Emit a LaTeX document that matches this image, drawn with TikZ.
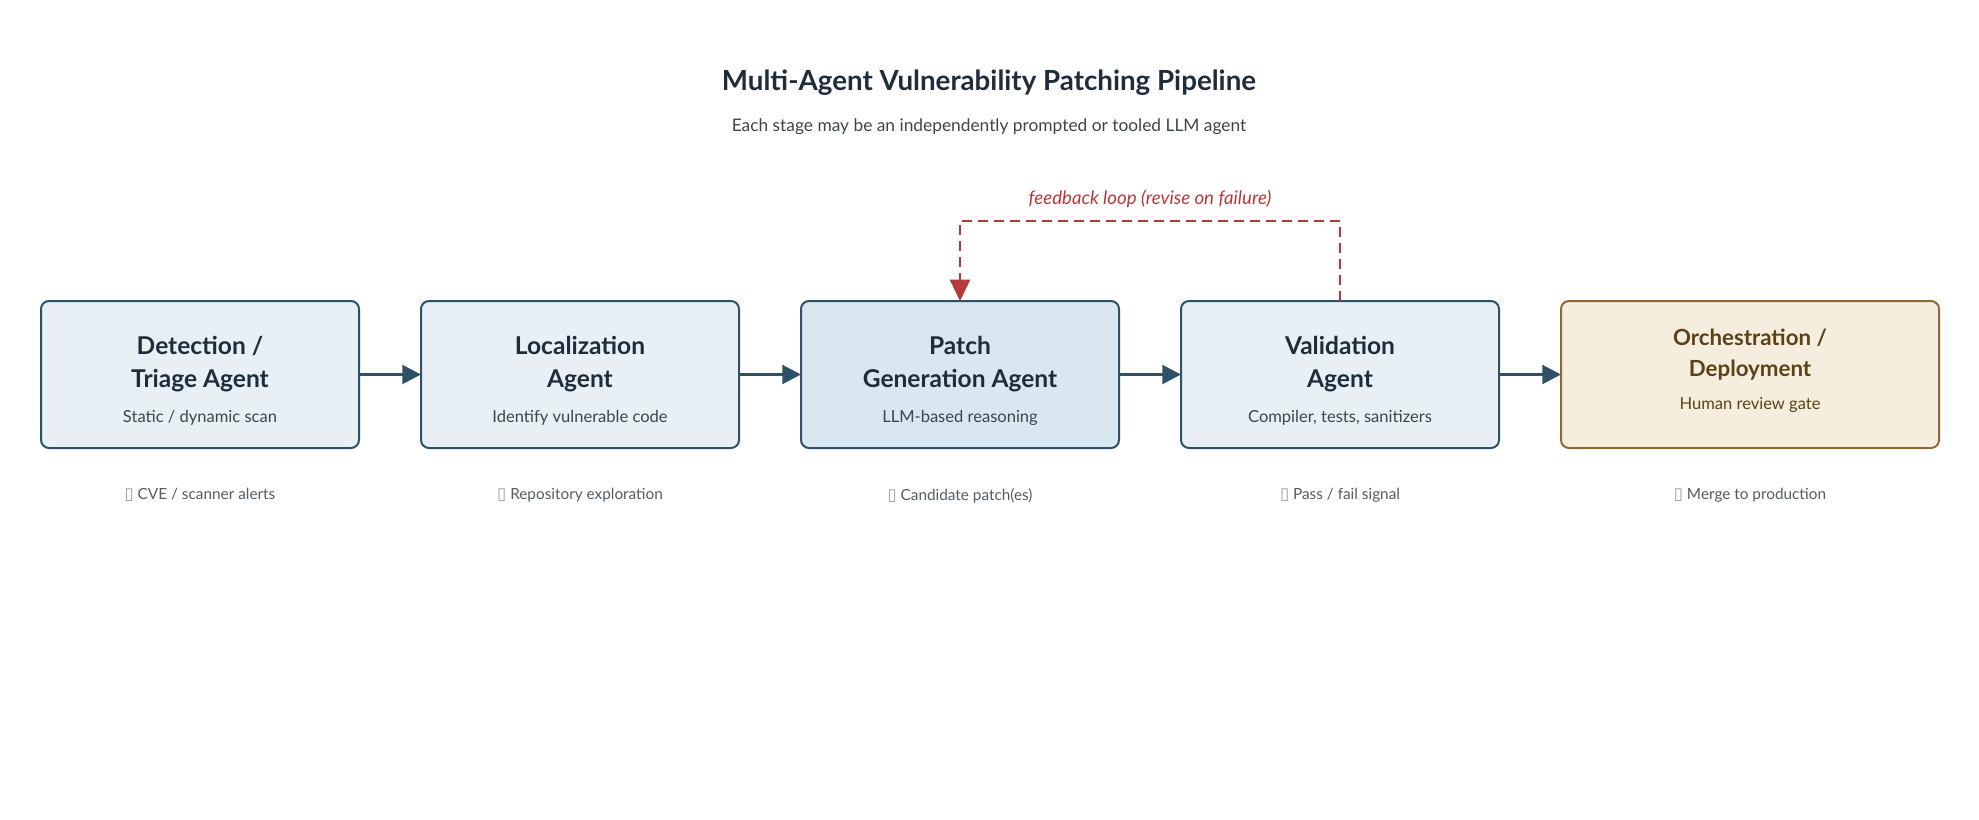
\documentclass[tikz,border=0pt]{standalone}
\usepackage{fontspec}
\setmainfont{Lato}
\newfontfamily\symfont{DejaVu Sans}
\usetikzlibrary{positioning, arrows.meta}
\definecolor{ink}{HTML}{1F2D3A}
\definecolor{edge}{HTML}{2E5166}
\definecolor{boxfill}{HTML}{E8F0F5}
\definecolor{hlfill}{HTML}{DBE7F0}
\definecolor{sandfill}{HTML}{F5EEDE}
\definecolor{sandedge}{HTML}{8C6A36}
\definecolor{sandink}{HTML}{5B4318}
\definecolor{fbred}{HTML}{B5393B}
\definecolor{subgrey}{HTML}{3F4449}
\definecolor{notegrey}{HTML}{555B60}
\newcommand{\agentsub}[2][subgrey]{{\fontsize{12.4}{14}\selectfont\mdseries\color{#1}#2}}
\newcommand{\tofu}{{\symfont\fontsize{12.5}{13}\selectfont\color{notegrey!60}▯}}
\tikzset{
  agent/.style={draw=edge, fill=boxfill, line width=1.5pt, rounded corners=6pt, outer sep=0pt,
    minimum width=238.5pt, minimum height=110.25pt, align=center, text=ink,
    font=\fontsize{18.4}{24.75}\selectfont\bfseries, text height=75.25pt, text depth=4pt},
  deploy/.style={agent, draw=sandedge, fill=sandfill, text=sandink, minimum width=283.5pt,
    font=\fontsize{16.7}{23.25}\selectfont\bfseries, text height=55.75pt, text depth=4pt},
  flow/.style={draw=edge, line width=2.25pt, -{Triangle[length=14pt,width=14pt]}},
  fbk/.style={draw=fbred, line width=1.9pt, dash pattern=on 7.5pt off 4.5pt,
    -{Triangle[length=16pt,width=15pt]}},
  note/.style={inner sep=0pt, text=notegrey, font=\fontsize{11.5}{13}\selectfont}}
\begin{document}
\begin{tikzpicture}[x=0.75pt, y=-0.75pt]
\useasboundingbox (0,0) rectangle (1979,819);
\node[text=ink, font=\fontsize{20.8}{24}\selectfont\bfseries] (title) at (989,83) {Multi-Agent Vulnerability Patching Pipeline};
\node[text=subgrey, font=\fontsize{13}{15}\selectfont] (subtitle) at (989,127) {Each stage may be an independently prompted or tooled LLM agent};

\node[agent] (det) at (200,374.5) {Detection /\\ Triage Agent\\[1.5pt]\agentsub{Static / dynamic scan}};
\node[agent, right=46.5pt of det] (loc) {Localization\\ Agent\\[1.5pt]\agentsub{Identify vulnerable code}};
\node[agent, fill=hlfill, right=46.5pt of loc] (gen) {Patch\\ Generation Agent\\[1.5pt]\agentsub{LLM-based reasoning}};
\node[agent, right=46.5pt of gen] (val) {Validation\\ Agent\\[1.5pt]\agentsub{Compiler, tests, sanitizers}};
\node[deploy, right=46.5pt of val] (dep) {Orchestration /\\ Deployment\\[1.5pt]\agentsub[sandink]{Human review gate}};

\draw[flow] (det) -- (loc);\draw[flow] (loc) -- (gen);\draw[flow] (gen) -- (val);\draw[flow] (val) -- (dep);

\coordinate (fbturn) at (val.north |- 0,221);
\draw[fbk] (val.north) -- (fbturn) -| (gen.north);
\node[text=fbred, font=\fontsize{14}{16}\selectfont\itshape] (fbnote) at (1150,199) {feedback loop (revise on failure)};

\node[note, below=30pt of det] (detnote) {\tofu\ CVE / scanner alerts};
\node[note, below=30pt of loc] (locnote) {\tofu\ Repository exploration};
\node[note, below=30pt of gen] (gennote) {\tofu\ Candidate patch(es)};
\node[note, below=30pt of val] (valnote) {\tofu\ Pass / fail signal};
\node[note, below=30pt of dep] (depnote) {\tofu\ Merge to production};
\end{tikzpicture}
\end{document}
